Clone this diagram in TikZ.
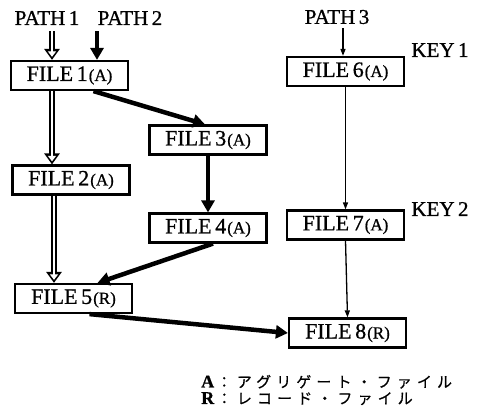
\documentclass[tikz,border=0pt]{standalone}
\usepackage{fontspec}
\setmainfont{Liberation Serif}[RawFeature={embolden=0.8}]
\newfontfamily\jpfont[LetterSpace=34,RawFeature={embolden=0.5}]{Noto Sans CJK JP}
\usetikzlibrary{arrows.meta}
\tikzset{
  file node/.style={rectangle,draw,line width=2.2pt,minimum width=117pt,minimum height=29pt,inner sep=0pt,font=\fontsize{22}{24}\selectfont},
  name node/.style={inner sep=0pt,font=\fontsize{21}{23}\selectfont},
  legend node/.style={anchor=west,align=left,inner sep=0pt,font=\fontsize{15}{16.5}\selectfont},
  thick path/.style={line width=4.5pt,-{Triangle[length=12pt,width=13pt]}},
  thin path/.style={line width=1.3pt,-{Triangle[length=7pt,width=5pt]}},
  hollow path/.style={draw=white,line width=2.4pt,shorten >=3.1pt,-{Triangle[length=5.5pt,width=8pt]},
    preaction={draw=black,line width=6.4pt,shorten >=0pt,-{Triangle[length=11pt,width=15pt]}}}
}
\newcommand{\fname}[2]{FILE\,#1\kern1pt{\fontsize{17}{18}\selectfont(#2)}}
\newcommand{\legkey}[1]{{\fontsize{18}{15}\selectfont\textbf{#1}}\,}

\begin{document}
\begin{tikzpicture}[x=1pt,y=-1pt]
	\useasboundingbox (0,0) rectangle (478,418);
	\node [name node] (p1) at (47,18) {PATH\,1};
	\node [name node] (p2) at (130,18) {PATH\,2};
	\node [name node] (p3) at (337,17) {PATH\,3};
	\node [name node] (k1) at (440,50) {KEY\,1};
	\node [name node] (k2) at (440,209) {KEY\,2};
	\node [file node] (f1) at (69.5,75.5) {\fname{1}{A}};
	\node [file node] (f2) at (71,180) {\fname{2}{A}};
	\node [file node] (f3) at (208,140) {\fname{3}{A}};
	\node [file node] (f4) at (208,228) {\fname{4}{A}};
	\node [file node] (f5) at (73.5,298.5) {\fname{5}{R}};
	\node [file node] (f6) at (345.5,71.5) {\fname{6}{A}};
	\node [file node] (f7) at (345.5,225) {\fname{7}{A}};
	\node [file node] (f8) at (347.5,333) {\fname{8}{R}};
	\coordinate (s1) at (52,31);
	\coordinate (s2) at (97,31);
	\coordinate (s3) at (343,28);
	% path 1
	\draw [hollow path] (s1) -- (s1 |- f1.north);
	\draw [hollow path] ([xshift=-17.5pt]f1.south) -- ([xshift=-17.5pt]f1.south |- f2.north);
	\draw [hollow path] ([xshift=-17pt]f2.south) -- ([xshift=-17pt]f2.south |- f5.north);
	% path 2
	\draw [thick path] (s2) -- (s2 |- f1.north);
	\draw [thick path] ([xshift=24pt]f1.south) -- ([xshift=-3pt]f3.north);
	\draw [thick path] (f3.south) -- (f4.north);
	\draw [thick path] ([xshift=5pt]f4.south) -- ([xshift=24pt]f5.north);
	\draw [thick path] ([xshift=16pt]f5.south) -- (f8.west);
	% path 3
	\draw [thin path] (s3) -- (s3 |- f6.north);
	\draw [thin path] (f6.south) -- (f7.north);
	\draw [thin path] (f7.south) -- (f8.north);
	% legend
	\node [legend node] (leg) at (201,390) {\legkey{A}{\jpfont ：アグリゲート・ファイル}\\ \legkey{R}{\jpfont ：レコード・ファイル}};
\end{tikzpicture}
\end{document}
